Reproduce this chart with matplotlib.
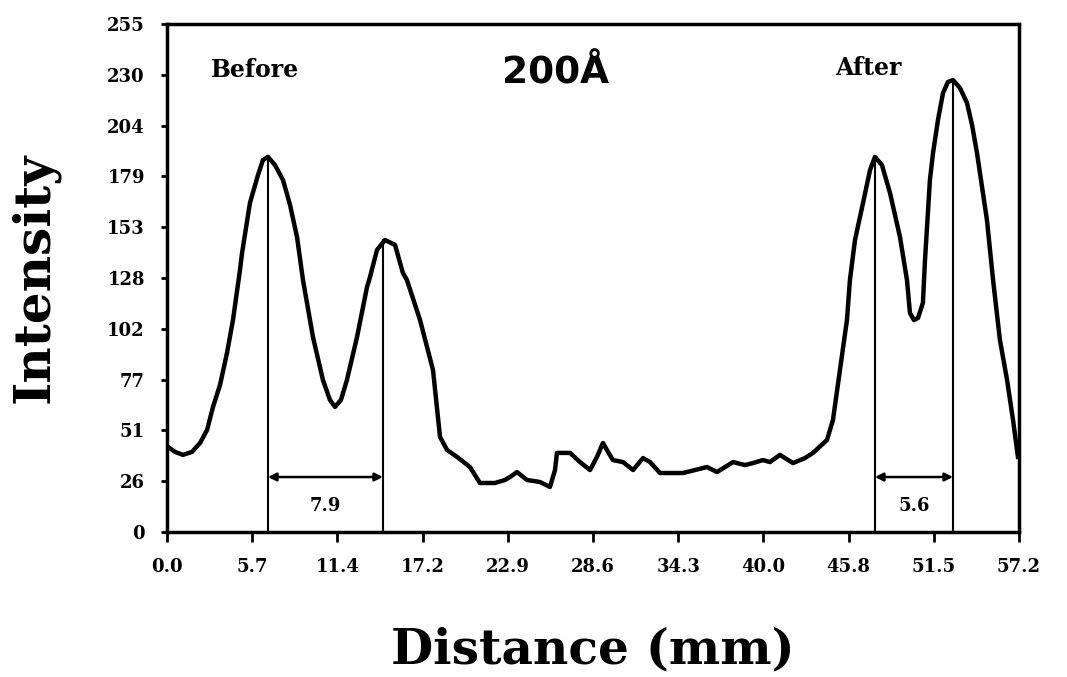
import matplotlib
matplotlib.use("Agg")
import matplotlib.pyplot as plt
import numpy as np

# Intensity profile (distance in mm, intensity)
distance = [0.07, 0.54, 1.07, 1.68, 2.22, 2.69, 3.09, 3.56, 4.03, 4.43, 4.90, 5.04, 5.57, 6.11, 6.44, 6.78,
            7.25, 7.79, 8.26, 8.73, 9.13, 9.80, 10.47, 10.94, 11.28, 11.68, 12.08, 12.76, 13.43, 13.63, 14.10,
            14.64, 15.31, 15.84, 16.11, 16.99, 17.86, 18.33, 18.80, 19.47, 20.34, 21.01, 22.02, 22.69, 23.03,
            23.50, 24.17, 25.04, 25.71, 26.05, 26.18, 27.06, 27.73, 28.40, 28.87, 29.27, 29.61, 29.94, 30.61,
            31.29, 31.96, 32.43, 33.10, 34.64, 35.45, 36.25, 36.93, 38.00, 38.81, 39.34, 40.01, 40.48, 41.15,
            42.03, 42.83, 43.37, 44.31, 44.71, 45.18, 45.65, 45.85, 46.19, 46.73, 47.20, 47.53, 48.00, 48.54,
            49.21, 49.68, 49.88, 50.15, 50.42, 50.75, 50.89, 51.22, 51.43, 51.76, 52.10, 52.43, 52.77, 53.24,
            53.71, 54.05, 54.38, 55.05, 55.46, 55.92, 56.40, 56.80, 57.13]
intensity = [42.7, 40.2, 38.7, 40.2, 44.7, 51.2, 62.8, 73.8, 89.9, 106.4, 131.5, 140.1, 165.2, 179.2, 186.7, 188.3,
             184.2, 176.7, 164.2, 148.1, 126.5, 97.9, 76.3, 66.3, 62.8, 66.3, 76.3, 97.9, 123.0, 128.0, 141.6,
             146.6, 144.1, 130.0, 126.5, 106.4, 81.3, 47.7, 41.2, 37.7, 32.6, 24.6, 24.6, 26.1, 27.6,
             30.1, 26.1, 25.1, 22.6, 31.1, 39.7, 39.7, 35.1, 31.1, 37.7, 44.7, 40.2, 36.1, 35.1,
             31.1, 37.1, 35.1, 29.6, 29.6, 31.1, 32.6, 30.1, 35.1, 33.6, 34.6, 36.1, 35.1, 38.7,
             34.6, 37.1, 39.7, 46.2, 56.2, 81.3, 106.4, 126.5, 146.6, 165.2, 181.7, 188.3, 184.2, 170.2,
             148.1, 126.5, 109.9, 106.4, 107.4, 115.0, 136.5, 176.7, 190.3, 206.8, 220.4, 225.9, 226.9, 222.9,
             215.4, 204.3, 190.3, 156.6, 126.5, 96.4, 76.3, 56.2, 37.7]

# Peak markers (x, height) and separations
peak_x = [6.78, 14.5, 47.53, 52.77]
peak_y = [188.3, 146.6, 188.3, 226.9]
spans = [(6.78, 14.5, "7.9"), (47.53, 52.77, "5.6")]
arrow_y = 27.6
label_y = 13.0

xticks = [0, 5.72, 11.44, 17.16, 22.88, 28.6, 34.32, 40.04, 45.76, 51.48, 57.2]
xticklabels = ["0.0", "5.7", "11.4", "17.2", "22.9", "28.6", "34.3", "40.0", "45.8", "51.5", "57.2"]
yticks = [0, 25.5, 51, 76.5, 102, 127.5, 153, 178.5, 204, 229.5, 255]
yticklabels = ["0", "26", "51", "77", "102", "128", "153", "179", "204", "230", "255"]

serif = "DejaVu Serif"
fig = plt.figure(figsize=(10.67, 6.77), dpi=100)
ax = fig.add_axes([0.1565, 0.2142, 0.7985, 0.7503])

ax.plot(distance, intensity, color="black", lw=3.2, solid_joinstyle="round")
for px, py in zip(peak_x, peak_y):
    ax.plot([px, px], [0, py], color="black", lw=1.5)
for x0, x1, lab in spans:
    ax.annotate("", xy=(x0, arrow_y), xytext=(x1, arrow_y),
                arrowprops=dict(arrowstyle="<|-|>", color="black", lw=1.8,
                                mutation_scale=12, shrinkA=0, shrinkB=0))
    ax.text((x0 + x1) / 2, label_y, lab, ha="center", va="center",
            fontsize=13, fontweight="bold", family=serif)

ax.text(5.9, 232, "Before", ha="center", va="center", fontsize=17, fontweight="bold", family=serif)
ax.text(47.1, 233, "After", ha="center", va="center", fontsize=17, fontweight="bold", family=serif)
ax.text(26.05, 230, "200Å", ha="center", va="center", fontsize=27, fontweight="bold", family="DejaVu Sans")

ax.set_xlim(0, 57.2)
ax.set_ylim(0, 255)
ax.set_xticks(xticks)
ax.set_xticklabels(xticklabels)
ax.set_yticks(yticks)
ax.set_yticklabels(yticklabels)
for lab in ax.get_xticklabels() + ax.get_yticklabels():
    lab.set_fontweight("bold")
    lab.set_family(serif)
    lab.set_fontsize(13)
ax.tick_params(axis="x", direction="out", length=7, width=2, pad=12)
ax.tick_params(axis="y", direction="out", length=4, width=2, pad=12)
for s in ax.spines.values():
    s.set_linewidth(2.5)

ax.set_ylabel("Intensity", fontsize=36, fontweight="bold", family=serif, labelpad=34)
ax.set_xlabel("Distance (mm)", fontsize=35, fontweight="bold", family=serif, labelpad=36)

fig.savefig("out.png", dpi=100)
